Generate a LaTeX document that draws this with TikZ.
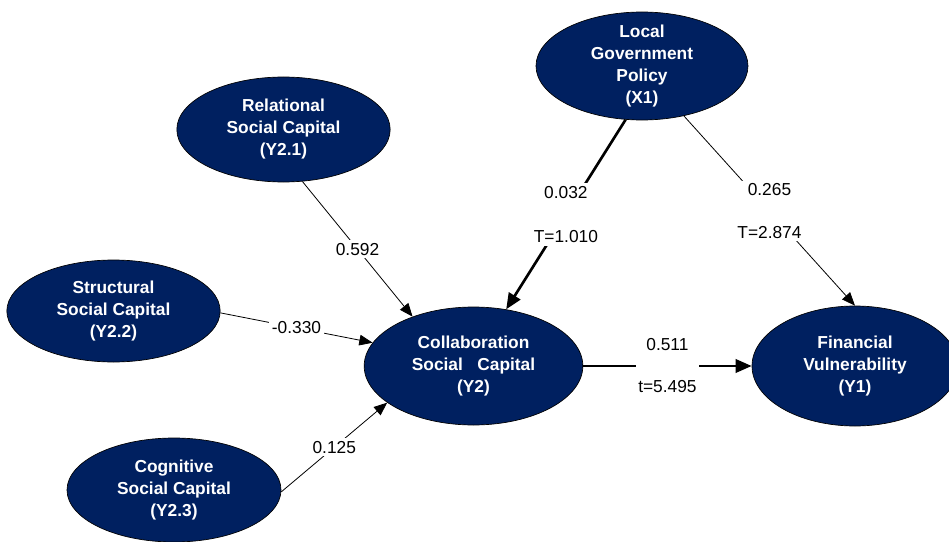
\documentclass[tikz,border=0pt]{standalone}
\usepackage{fontspec}
\setmainfont{Liberation Sans}
\usetikzlibrary{arrows.meta,shapes.geometric}
\definecolor{navy}{RGB}{0,32,96}
\begin{document}
\begin{tikzpicture}[x=0.75pt,y=-0.75pt,
  latent/.style={ellipse, draw=black, line width=0.5pt, fill=navy, inner sep=0pt},
  ltext/.style={text=white, font=\bfseries\fontsize{13}{16.5}\selectfont, align=center},
  thinarrow/.style={line width=0.6pt, -{Triangle[length=10pt,width=8pt]}},
  thickarrow/.style={line width=2pt, -{Triangle[length=12pt,width=10pt]}},
  coef/.style={fill=white, inner sep=2pt, font=\fontsize{13}{15.6}\selectfont, align=center}]

\useasboundingbox (0,0) rectangle (949,542);
\clip (0,0) rectangle (949,542);

\node[latent, minimum width=159pt, minimum height=81pt,
  label={[ltext]center:Local\\Government\\Policy\\(X1)}] (x1) at (642,66) {};
\node[latent, minimum width=160pt, minimum height=78.75pt,
  label={[ltext]center:Relational\\Social Capital\\(Y2.1)}] (y21) at (283.5,129.5) {};
\node[latent, minimum width=160pt, minimum height=76.5pt,
  label={[ltext]center:Structural\\Social Capital\\(Y2.2)}] (y22) at (113.5,311) {};
\node[latent, minimum width=164pt, minimum height=88.5pt,
  label={[ltext]center:Collaboration\\Social\ \ \ Capital\\(Y2)}] (y2) at (473.5,366) {};
\node[latent, minimum width=154.5pt, minimum height=90pt,
  label={[ltext]center:Financial\\Vulnerability\\(Y1)}] (y1) at (855,366) {};
\node[latent, minimum width=160.5pt, minimum height=78pt,
  label={[ltext]center:Cognitive\\Social Capital\\(Y2.3)}] (y23) at (174,490) {};

\draw[thinarrow] (y21.-70) -- (y2.141) node[coef, pos=0.5] {0.592};
\draw[thinarrow] (y22.-1) -- (y2.167) node[coef, pos=0.5] {-0.330};
\draw[thinarrow] (y23.-1) -- (y2.203) node[coef, pos=0.5] {0.125};
\draw[thickarrow] (x1.-107) -- (y2.60) node[coef, pos=0.5] {0.032\\[18pt]T=1.010};
\draw[thinarrow] (x1.-50) -- (y1.90) node[coef, pos=0.5] {0.265\\[16.6pt]T=2.874};
\draw[thickarrow] (y2) -- (y1) node[coef, pos=0.5] {0.511\\[15.9pt]t=5.495};
\end{tikzpicture}
\end{document}
